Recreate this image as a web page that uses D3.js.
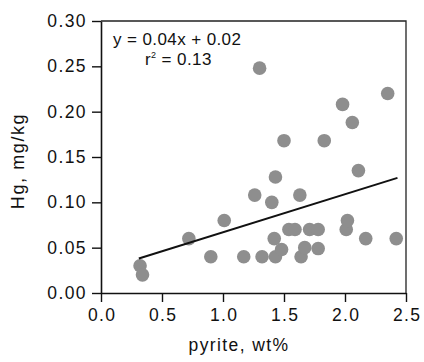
<!DOCTYPE html>
<html>
<head>
<meta charset="utf-8">
<script src="https://d3js.org/d3.v7.min.js"></script>
<style>
    body { margin: 0; background: #fff; }
    text { font-family: "Liberation Sans", Arial, Helvetica, sans-serif; fill: #111; }
</style>
</head>
<body>
<svg></svg>
<script>
// pyrite (wt%) and Hg (mg/kg)
const pyrite = [0.32, 0.34, 0.72, 0.90, 1.01, 1.17, 1.26, 1.30, 1.32, 1.40, 1.43,
    1.42, 1.43, 1.48, 1.50, 1.54, 1.59, 1.63, 1.64, 1.67, 1.71, 1.78, 1.78, 1.83,
    1.98, 2.01, 2.02, 2.06, 2.11, 2.17, 2.35, 2.42];
const hg = [0.030, 0.020, 0.060, 0.040, 0.080, 0.040, 0.108, 0.248, 0.040, 0.100, 0.128,
    0.060, 0.040, 0.048, 0.168, 0.070, 0.070, 0.108, 0.040, 0.050, 0.070, 0.070, 0.049, 0.168,
    0.208, 0.070, 0.080, 0.188, 0.135, 0.060, 0.220, 0.060];

// regression line end points
const fitX = [0.31, 2.43];
const fitY = [0.038, 0.127];

const xTicks = [0, 0.5, 1.0, 1.5, 2.0, 2.5];
const yTicks = [0, 0.05, 0.10, 0.15, 0.20, 0.25, 0.30];

const width = 424;
const height = 362;
const plotLeft = 101, plotRight = 406, plotTop = 21, plotBottom = 293;

let svg = d3.select("svg")
    .attr("width", width)
    .attr("height", height);

let scX = d3.scaleLinear().domain([0, 2.5]).range([plotLeft, plotRight]);
let scY = d3.scaleLinear().domain([0, 0.30]).range([plotBottom, plotTop]);

// оси
let axisX = d3.axisBottom(scX)
    .tickValues(xTicks)
    .tickFormat(d3.format(".1f"))
    .tickSize(9)
    .tickSizeOuter(0)
    .tickPadding(6);
let axisY = d3.axisLeft(scY)
    .tickValues(yTicks)
    .tickFormat(d3.format(".2f"))
    .tickSize(9)
    .tickSizeOuter(0)
    .tickPadding(6);

let gx = svg.append("g")
    .attr("transform", `translate(0, ${plotBottom})`)
    .call(axisX);
let gy = svg.append("g")
    .attr("transform", `translate(${plotLeft}, 0)`)
    .call(axisY);

[gx, gy].forEach(g => {
    g.select(".domain").attr("stroke", "#111").attr("stroke-width", 1.6);
    g.selectAll(".tick line").attr("stroke", "#111").attr("stroke-width", 1.4);
    g.selectAll(".tick text")
        .attr("font-family", "Liberation Sans, Arial, sans-serif")
        .style("font-size", "17.5px")
        .style("letter-spacing", "1.4px")
        .attr("fill", "#111");
});
gx.selectAll(".tick text").attr("dy", "0.75em").attr("dx", "0.7px");
gy.selectAll(".tick text").attr("dx", "1px");

// рамка сверху и справа
svg.append("path")
    .attr("d", `M${plotLeft},${plotTop}H${plotRight}V${plotBottom}`)
    .attr("fill", "none")
    .attr("stroke", "#222")
    .attr("stroke-width", 1.3);

// точки
svg.selectAll(".dot")
    .data(pyrite.map((x, i) => [x, hg[i]]))
    .enter()
    .append("circle")
    .attr("class", "dot")
    .attr("cx", d => scX(d[0]))
    .attr("cy", d => scY(d[1]))
    .attr("r", 6.8)
    .attr("fill", "#8e8e8e");

// линия регрессии
svg.append("line")
    .attr("x1", scX(fitX[0]))
    .attr("y1", scY(fitY[0]))
    .attr("x2", scX(fitX[1]))
    .attr("y2", scY(fitY[1]))
    .attr("stroke", "#111")
    .attr("stroke-width", 2);

// уравнение
svg.append("text")
    .attr("x", 113)
    .attr("y", 45)
    .style("font-size", "17px")
    .style("letter-spacing", "0.4px")
    .text("y = 0.04x + 0.02");

let r2 = svg.append("text")
    .attr("x", 145)
    .attr("y", 65)
    .style("font-size", "17px")
    .style("letter-spacing", "0.4px");
r2.append("tspan").text("r");
r2.append("tspan").attr("dy", -7).style("font-size", "9px").text("2");
r2.append("tspan").attr("dy", 7).text(" = 0.13");

// подписи осей
svg.append("text")
    .attr("x", 239)
    .attr("y", 351)
    .attr("text-anchor", "middle")
    .style("font-size", "17.5px")
    .style("letter-spacing", "1.4px")
    .text("pyrite, wt%");

svg.append("text")
    .attr("transform", "translate(24, 161) rotate(-90)")
    .attr("text-anchor", "middle")
    .style("font-size", "18px")
    .style("letter-spacing", "1.6px")
    .text("Hg, mg/kg");
</script>
</body>
</html>
